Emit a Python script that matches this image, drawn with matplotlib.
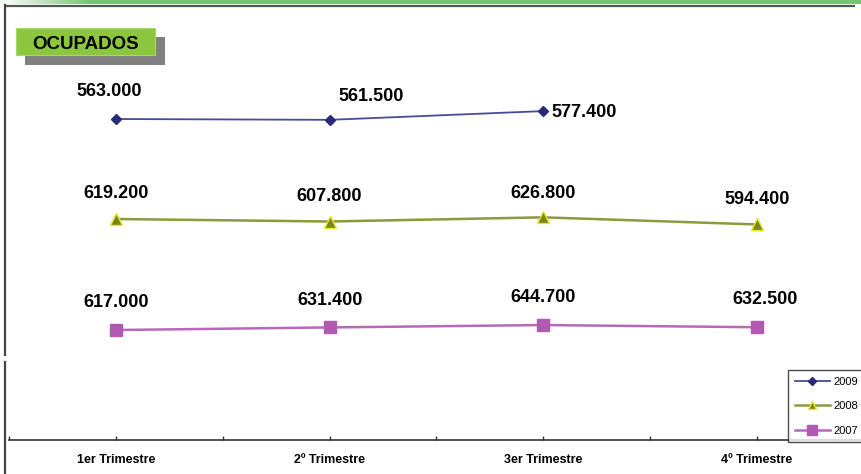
import matplotlib
matplotlib.use("Agg")
import matplotlib.pyplot as plt
import matplotlib.patches as patches
import matplotlib.transforms as mtransforms
import numpy as np

plt.rcParams['font.family'] = ['Liberation Sans', 'DejaVu Sans']

# Data
quarters = ['1er Trimestre', '2º Trimestre', '3er Trimestre', '4º Trimestre']
years = ['2009', '2008', '2007']
ocupados_2009 = [563.0, 561.5, 577.4]
ocupados_2008 = [619.2, 607.8, 626.8, 594.4]
ocupados_2007 = [617.0, 631.4, 644.7, 632.5]
series = [ocupados_2009, ocupados_2008, ocupados_2007]

# Styling / layout (each series lives on its own hidden y scale)
W, H = 862, 474
styles = [
    dict(color='#4a4a9c', marker='D', ms=5, mfc='#2a2a7a', mec='#2a2a7a', lw=1.3),
    dict(color='#8a9a3c', marker='^', ms=8, mfc='#7a861c', mec='#e6e62a', lw=1.8),
    dict(color='#b868b8', marker='s', ms=9, mfc='#b25ab2', mec='#b25ab2', lw=1.8),
]
ylims = [(-20.6, 652.1), (-385.3, 1296.5), (6.0, 2061.6)]
label_offsets = [
    [(-5, 14), (30, 11), (29, -7)],
    [(0, 12), (0, 12), (0, 11), (0, 12)],
    [(0, 14), (0, 13), (0, 14), (6, 14)],
]

fig = plt.figure(figsize=(W / 100, H / 100), dpi=100)

# main axes: bottom at y=440px, top at y=70px
ax_left, ax_right = 9 / W, 864 / W
ax_bottom, ax_top = (H - 440) / H, (H - 70) / H
ax = fig.add_axes([ax_left, ax_bottom, ax_right - ax_left, ax_top - ax_bottom])
x = np.arange(len(quarters))
ax.set_xlim(-0.5, 3.5)
ax.set_ylim(0, 1)
ax.set_yticks([])
for s in ['top', 'right', 'left']:
    ax.spines[s].set_visible(False)
ax.spines['bottom'].set_color('#333333')
ax.spines['bottom'].set_linewidth(1.2)
ax.set_xticks(np.arange(-0.5, 3.51, 0.5))
ax.set_xticklabels([])
ax.tick_params(axis='x', direction='in', length=3, color='#333333', width=1)
blend = mtransforms.blended_transform_factory(ax.transData, ax.transAxes)
for xi, q in zip(x, quarters):
    ax.text(xi, -20 / 370, q, transform=blend, ha='center', va='center',
            fontsize=9, fontweight='bold')

handles = []
for vals, st, lim, offs in zip(series, styles, ylims, label_offsets):
    a = ax.twinx()
    a.set_ylim(*lim)
    a.axis('off')
    xs = x[:len(vals)]
    ln, = a.plot(xs, vals, **st, zorder=3)
    handles.append(ln)
    for xi, v, off in zip(xs, vals, offs):
        a.annotate(f"{v:.3f}", (xi, v), xytext=off, textcoords='offset points',
                   ha='center', va='bottom', fontsize=13, fontweight='bold')

leg = fig.legend(handles, years, loc='upper left',
                 bbox_to_anchor=(788 / W, (H - 370) / H),
                 fontsize=8, frameon=True, fancybox=False, handlelength=3.2,
                 borderpad=0.6, labelspacing=1.3, handletextpad=0.3,
                 borderaxespad=0, markerscale=0.8)
leg.get_frame().set_edgecolor('#222222')
leg.get_frame().set_linewidth(1)

# decorations in pixel coordinates
deco = fig.add_axes([0, 0, 1, 1], zorder=-1)
deco.set_xlim(0, W)
deco.set_ylim(H, 0)
deco.axis('off')
grad = np.linspace(0, 1, 100)
green = np.array([0.47, 0.77, 0.45])
img = np.ones((1, 100, 3)) * (1 - grad[None, :, None]) + green[None, None, :] * grad[None, :, None]
deco.imshow(img, extent=(0, 90, 3.5, 0), aspect='auto')
deco.add_patch(patches.Rectangle((90, 0), W - 90, 3.5, color='#77c472', lw=0))
deco.plot([5, 855], [6, 6], color='#555555', lw=1.6, solid_capstyle='butt')
deco.plot([5, 5], [5, 355], color='#444444', lw=1.6)
deco.plot([5, 5], [362, H], color='#444444', lw=1.6)
deco.set_xlim(0, W)
deco.set_ylim(H, 0)

# title box
deco.add_patch(patches.Rectangle((25, 37), 140, 28, color='#808080', lw=0))
deco.add_patch(patches.Rectangle((16, 28), 139, 27, facecolor='#8cc63f',
                                 edgecolor='#a6d96a', lw=0.8))
deco.text(86, 44, 'OCUPADOS', ha='center', va='center', fontsize=13.5,
          fontweight='bold', color='black')

fig.savefig('out.png', dpi=100)
